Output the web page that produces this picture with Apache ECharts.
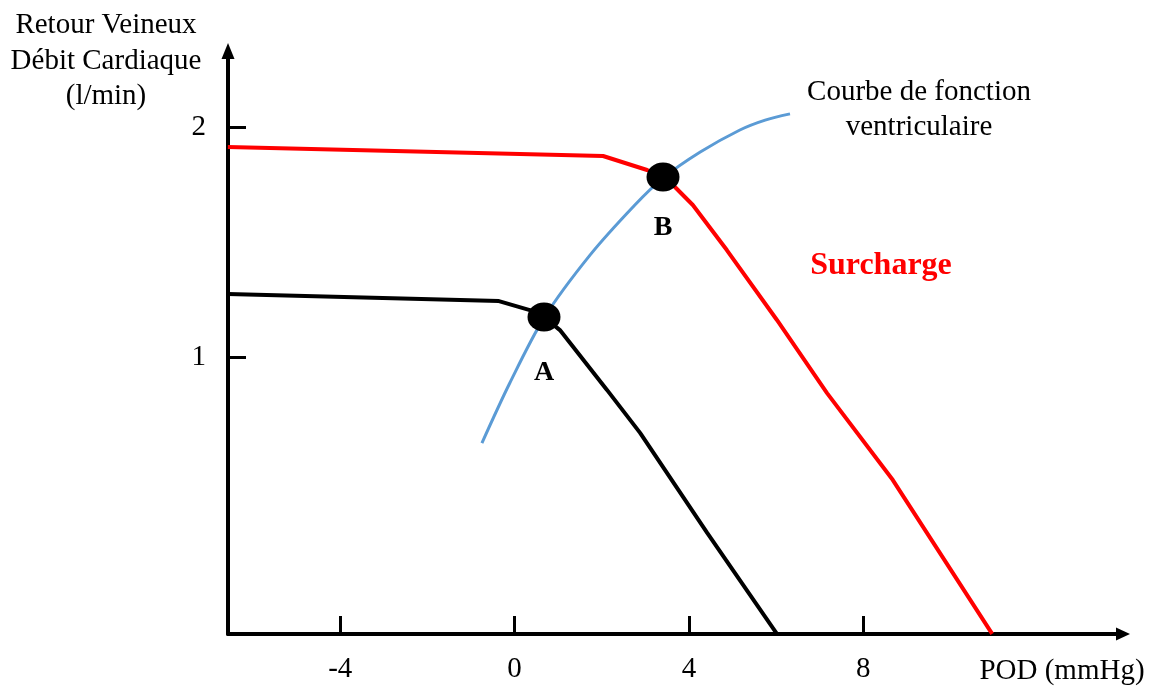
<!DOCTYPE html>
<html>
<head>
<meta charset="utf-8">
<title>Retour veineux / débit cardiaque</title>
<script src="https://cdn.jsdelivr.net/npm/echarts@6/dist/echarts.min.js"></script>
<style>
  html, body { margin: 0; padding: 0; background: #fff; }
  #chart { width: 1153px; height: 689px; }
</style>
</head>
<body>
<div id="chart"></div>
<script>
const retourNormal = [
  [-6.58, 1.274], [-0.36, 1.243], [0.35, 1.204], [0.675, 1.174], [1.04, 1.117],
  [2.12, 0.857], [2.88, 0.670], [4.42, 0.235], [6.02, -0.204]
];
const retourSurcharge = [
  [-6.58, 1.913], [2.03, 1.874], [3.04, 1.813], [3.406, 1.783], [3.68, 1.739],
  [4.09, 1.661], [4.87, 1.465], [6.02, 1.161], [7.17, 0.843], [8.68, 0.465], [10.96, -0.204]
];
const fonctionVentriculaire = [
  [-0.75, 0.626], [-0.11, 0.887], [0.675, 1.170], [1.73, 1.443], [2.76, 1.661],
  [3.406, 1.778], [4.26, 1.891], [5.17, 1.987], [5.75, 2.030], [6.32, 2.057]
];
const pointNames = ['A', 'B'];
const pointValues = [[0.675, 1.174], [3.406, 1.783]];
const pointLabelGap = [27, 22];
const xTicks = [-4, 0, 4, 8];
const yTicks = [1, 2];

const serif = 'Liberation Serif';
const chart = echarts.init(document.getElementById('chart'));

const centered = { align: 'center', verticalAlign: 'middle', textAlign: 'center', textVerticalAlign: 'middle' };

chart.setOption({
  animation: false,
  grid: { left: 228, right: 30, top: 51, bottom: 55 },
  xAxis: {
    type: 'value',
    min: -6.577,
    max: 13.962,
    splitLine: { show: false },
    axisLine: {
      onZero: false,
      symbol: ['none', 'triangle'],
      symbolSize: [13, 14],
      lineStyle: { color: '#000', width: 4 }
    },
    axisTick: {
      customValues: xTicks,
      inside: true,
      length: 18,
      lineStyle: { color: '#000', width: 3 }
    },
    axisLabel: {
      customValues: xTicks,
      margin: 21,
      color: '#000',
      fontFamily: serif,
      fontSize: 29
    }
  },
  yAxis: {
    type: 'value',
    min: -0.2043,
    max: 2.3304,
    splitLine: { show: false },
    axisLine: {
      onZero: false,
      symbol: ['none', 'triangle'],
      symbolSize: [13, 16],
      lineStyle: { color: '#000', width: 4 }
    },
    axisTick: {
      customValues: yTicks,
      inside: true,
      length: 18,
      lineStyle: { color: '#000', width: 3 }
    },
    axisLabel: {
      customValues: yTicks,
      margin: 22,
      padding: [8, 0, 0, 0],
      color: '#000',
      fontFamily: serif,
      fontSize: 29
    }
  },
  graphic: [
    {
      type: 'text', x: 106, y: 61,
      style: Object.assign({
        text: 'Retour Veineux\nDébit Cardiaque\n(l/min)',
        font: '29px "Liberation Serif"', fill: '#000', lineHeight: 35.5
      }, centered)
    },
    {
      type: 'text', x: 919, y: 110,
      style: Object.assign({
        text: 'Courbe de fonction\nventriculaire',
        font: '29px "Liberation Serif"', fill: '#000', lineHeight: 35
      }, centered)
    },
    {
      type: 'text', x: 881, y: 266,
      style: Object.assign({
        text: 'Surcharge',
        font: 'bold 32px "Liberation Serif"', fill: '#ff0000'
      }, centered)
    },
    {
      type: 'text', x: 1062, y: 671,
      style: Object.assign({
        text: 'POD (mmHg)',
        font: '29px "Liberation Serif"', fill: '#000'
      }, centered)
    }
  ],
  series: [
    {
      name: 'Fonction ventriculaire',
      type: 'line',
      data: fonctionVentriculaire,
      smooth: 0.3,
      showSymbol: false,
      lineStyle: { color: '#5b9bd5', width: 3 }
    },
    {
      name: 'Retour veineux',
      type: 'line',
      data: retourNormal,
      showSymbol: false,
      lineStyle: { color: '#000', width: 4 }
    },
    {
      name: 'Surcharge',
      type: 'line',
      data: retourSurcharge,
      showSymbol: false,
      lineStyle: { color: '#ff0000', width: 4 }
    },
    {
      name: 'Points',
      type: 'scatter',
      z: 5,
      symbolSize: [33, 29],
      itemStyle: { color: '#000', opacity: 1 },
      data: pointValues.map((v, i) => ({
        value: v,
        label: {
          show: true,
          formatter: pointNames[i],
          position: 'bottom',
          distance: pointLabelGap[i],
          color: '#000',
          opacity: 1,
          fontFamily: serif,
          fontWeight: 'bold',
          fontSize: 28
        }
      }))
    }
  ]
});
</script>
</body>
</html>
